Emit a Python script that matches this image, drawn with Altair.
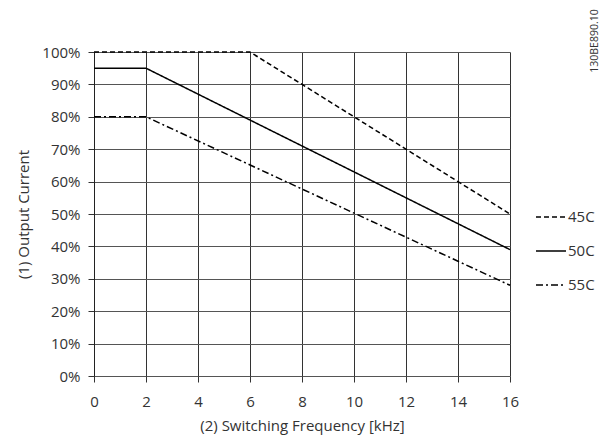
import altair as alt
import pandas as pd

series = ["45C", "50C", "55C"]
freq_45 = [0, 6, 16]
curr_45 = [100, 100, 50]
freq_50 = [0, 2, 16]
curr_50 = [95, 95, 39]
freq_55 = [0, 2, 16]
curr_55 = [80, 80, 28]
x_ticks = [0, 2, 4, 6, 8, 10, 12, 14, 16]
y_ticks = [0, 10, 20, 30, 40, 50, 60, 70, 80, 90, 100]

rows = []
for name, fs, cs in [("45C", freq_45, curr_45), ("50C", freq_50, curr_50), ("55C", freq_55, curr_55)]:
    for i, (f, c) in enumerate(zip(fs, cs)):
        rows.append({"series": name, "freq": f, "current": c / 100, "order": i})
df = pd.DataFrame(rows)

FONT = "Open Sans"

lines = alt.Chart(df).mark_line(color="black", strokeWidth=1.5, clip=False).encode(
    x=alt.X("freq:Q", scale=alt.Scale(domain=[0, 16], nice=False),
            axis=alt.Axis(values=x_ticks, title="(2) Switching Frequency [kHz]", grid=True,
                          gridColor="#333", gridWidth=1, gridOpacity=1, domain=False,
                          tickColor="#333", tickSize=6, labelPadding=12, titlePadding=9,
                          labelFlush=False)),
    y=alt.Y("current:Q", scale=alt.Scale(domain=[0, 1], nice=False),
            axis=alt.Axis(values=[v / 100 for v in y_ticks], format=".0%", title="(1) Output Current",
                          grid=True, gridColor="#555", gridWidth=1, gridOpacity=1,
                          domainColor="#222", tickColor="#333", tickSize=6,
                          labelPadding=8, titlePadding=10)),
    strokeDash=alt.StrokeDash("series:N",
        scale=alt.Scale(domain=series, range=[[5, 3], [1, 0], [7, 3, 2, 3]]),
        legend=alt.Legend(title=None, orient="none", legendX=441, legendY=149,
                          symbolType="stroke", symbolSize=900, symbolStrokeWidth=1.5,
                          symbolStrokeColor="black", rowPadding=10, labelFontSize=15,
                          labelFont=FONT, labelColor="#333", labelOffset=1)),
    order="order:Q",
)

code = alt.Chart(pd.DataFrame({"t": ["130BE890.10"]})).mark_text(
    angle=270, font=FONT, fontSize=10.5, color="#333", align="center", baseline="middle"
).encode(text="t:N", x=alt.value(501), y=alt.value(-11))

chart = (lines + code).properties(
    width=416, height=324,
    autosize=alt.AutoSizeParams(type="none"),
    padding={"left": 86, "top": 44, "right": 98, "bottom": 63},
).configure_view(stroke=None).configure_axis(
    labelFont=FONT, titleFont=FONT, labelFontSize=15, titleFontSize=15,
    labelColor="#333", titleColor="#333", titleFontWeight="normal"
)

chart.save("out.html", embed_options={"renderer": "svg", "actions": False})
